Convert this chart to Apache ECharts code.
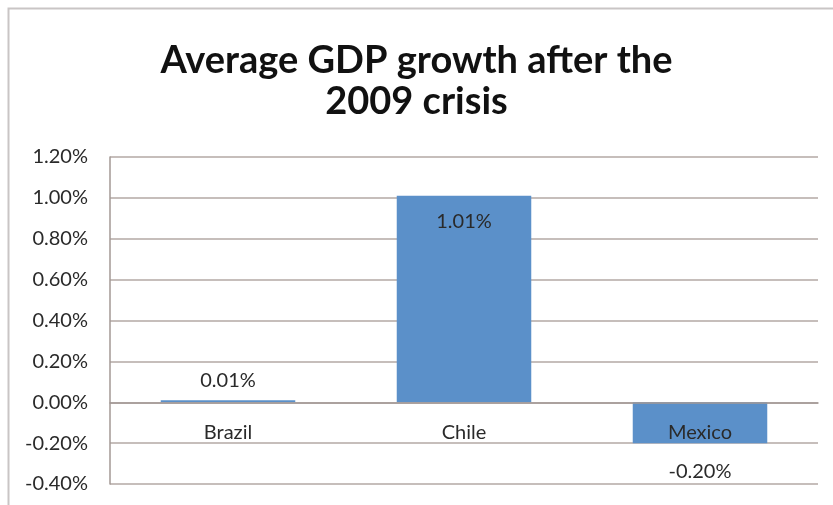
<!DOCTYPE html>
<html>
<head>
<meta charset="utf-8">
<script src="https://cdn.jsdelivr.net/npm/echarts@6/dist/echarts.min.js"></script>
<style>html,body{margin:0;padding:0;background:#fff}#c{width:833px;height:505px}</style>
</head>
<body>
<div id="c"></div>
<script>
const titleText = 'Average GDP growth after the\n2009 crisis';
const categories = ['Brazil', 'Chile', 'Mexico'];
const growth = [0.01, 1.01, -0.20];
const labelPositions = ['top', 'insideTop', 'bottom'];
const labelDistances = [10, 16, 18];
const yMin = -0.4, yMax = 1.2, yStep = 0.2;

const FONT = 'Lato';
const chart = echarts.init(document.getElementById('c'));
const option = {
  animation: false,
  backgroundColor: '#ffffff',
  graphic: [{
    type: 'rect', shape: {x: 8.5, y: 8.5, width: 900, height: 600},
    style: {fill: 'none', stroke: '#c9c5c5', lineWidth: 2}, silent: true
  }],
  title: {
    text: titleText, left: 'center', top: 35,
    textStyle: {fontFamily: FONT, fontWeight: 'bold', fontSize: 38, lineHeight: 41, color: '#111'}
  },
  grid: {left: 110, right: 15, top: 157, bottom: 21, containLabel: false, outerBoundsMode: 'none'},
  xAxis: {
    type: 'category', data: categories, z: 5,
    axisLine: {onZero: false, lineStyle: {color: '#a39895', width: 1.5}},
    axisTick: {show: false},
    axisLabel: {margin: 20, fontFamily: FONT, fontSize: 20, color: '#2a2a2a'}
  },
  yAxis: {
    type: 'value', min: yMin, max: yMax, interval: yStep,
    axisLine: {show: true, lineStyle: {color: '#a39895', width: 1.5}},
    axisTick: {show: false},
    splitLine: {lineStyle: {color: '#b3a8a5', width: 1.5}},
    axisLabel: {margin: 22, fontFamily: FONT, fontSize: 20, color: '#2a2a2a',
      formatter: v => v.toFixed(2) + '%'}
  },
  series: [{
    type: 'bar', barWidth: '57%',
    data: growth.map((v, i) => ({value: v, label: {position: labelPositions[i], distance: labelDistances[i]}})),
    itemStyle: {color: '#5b90c9'},
    label: {show: true, fontFamily: FONT, fontSize: 20, color: '#2a2a2a',
      formatter: p => p.value.toFixed(2) + '%'}
  }]
};
chart.setOption(option);
// move the category axis (line + labels) up to the zero line, using the value axis scale
const yZero = chart.convertToPixel({yAxisIndex: 0}, 0);
const yBottom = chart.convertToPixel({yAxisIndex: 0}, yMin);
chart.setOption({xAxis: {offset: yZero - yBottom}});
</script>
</body>
</html>
